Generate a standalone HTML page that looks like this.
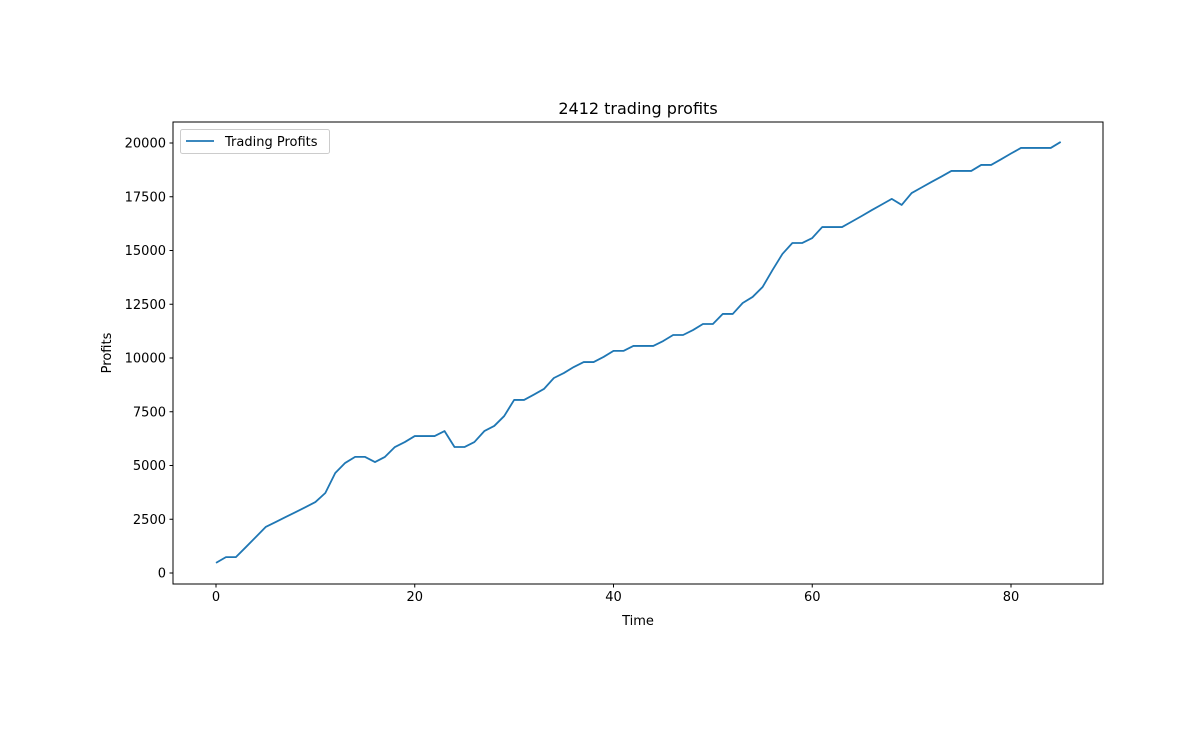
<!DOCTYPE html>
<html><head><meta charset="utf-8"><style>
body{margin:0;background:#fff}
svg text{font-family:"DejaVu Sans","Liberation Sans",sans-serif;fill:#000}
</style></head><body>
<svg id="chart" width="1203" height="727" viewBox="0 0 1203 727" xmlns="http://www.w3.org/2000/svg">
<rect width="1203" height="727" fill="#fff"/>
<g id="g"></g>
</svg>
<script>
const profits = [470,740,740,1200,1670,2140,2370,2600,2830,3060,3300,3720,4650,5120,5400,5400,5160,5400,5860,6090,6370,6370,6370,6600,5860,5860,6090,6600,6840,7300,8050,8050,8300,8560,9070,9300,9580,9810,9810,10050,10330,10330,10560,10560,10560,10790,11070,11070,11300,11580,11580,12050,12050,12560,12840,13300,14090,14840,15350,15350,15580,16090,16090,16090,16350,16610,16880,17140,17400,17120,17670,17930,18190,18440,18700,18700,18700,18980,18980,19240,19510,19770,19770,19770,19770,20050];
const xTicks = [0,20,40,60,80];
const yTicks = [0,2500,5000,7500,10000,12500,15000,17500,20000];

const L=173,R=1103,T=122,B=584;
const xs = v => 216 + v*(1011-216)/80;
const ys = v => 573 - v*(573-143)/20000;
const NS="http://www.w3.org/2000/svg";
const g=document.getElementById('g');
function mk(tag,attrs,parent){const e=document.createElementNS(NS,tag);for(const k in attrs)e.setAttribute(k,attrs[k]);(parent||g).appendChild(e);return e;}

const line=mk('polyline',{points:profits.map((v,i)=>xs(i)+','+ys(v)).join(' '),fill:'none',stroke:'#1f77b4','stroke-width':1.8,'stroke-linejoin':'round'});



const frame=mk('rect',{x:L,y:T,width:R-L,height:B-T,fill:'none',stroke:'#000','stroke-width':1});



xTicks.forEach(t=>{
  const x=xs(t);
  mk('line',{x1:x,x2:x,y1:B,y2:B+3.5,stroke:'#000'});
  const tx=mk('text',{x:x,y:B+17,'text-anchor':'middle','font-size':'13'});
  tx.textContent=t;
  
  
});
yTicks.forEach(t=>{
  const y=ys(t);
  mk('line',{x1:L-3.5,x2:L,y1:y,y2:y,stroke:'#000'});
  const tx=mk('text',{x:L-7,y:y+4.5,'text-anchor':'end','font-size':'13'});
  tx.textContent=t;
  
  
});

const title=mk('text',{x:(L+R)/2,y:114,'text-anchor':'middle','font-size':'16'});
title.textContent='2412 trading profits';



const xl=mk('text',{x:(L+R)/2,y:625,'text-anchor':'middle','font-size':'13'});
xl.textContent='Time';



const yl=mk('text',{x:0,y:0,'text-anchor':'middle','font-size':'13',transform:'translate(111,353) rotate(-90)'});
yl.textContent='Profits';



const leg=mk('g',{});


mk('rect',{x:180.5,y:129.5,width:149,height:24,rx:2,fill:'#fff',stroke:'#ccc'},leg);
mk('line',{x1:186,x2:214,y1:141,y2:141,stroke:'#1f77b4','stroke-width':1.8},leg);
const lt=mk('text',{x:225,y:146,'font-size':'13'},leg);
lt.textContent='Trading Profits';


</script>
</body></html>
